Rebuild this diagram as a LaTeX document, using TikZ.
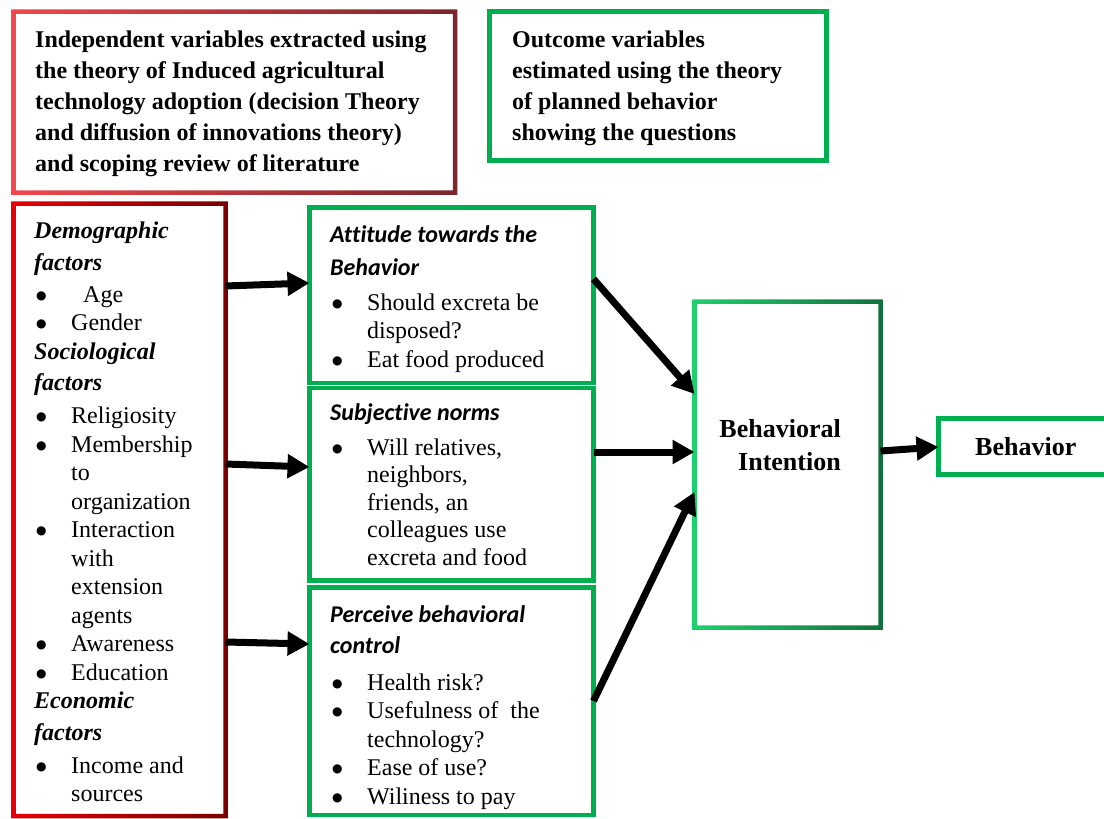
\documentclass[tikz,border=0pt]{standalone}
\usepackage{fontspec}
\setmainfont{Liberation Serif}
\newfontfamily\calfont[Ligatures=NoCommon]{Carlito}
\newfontfamily\dejavu{DejaVu Sans}
\usetikzlibrary{arrows.meta}
\definecolor{tgreen}{RGB}{0,176,80}
\definecolor{hdrL}{RGB}{240,72,76}
\definecolor{hdrR}{RGB}{122,38,44}
\definecolor{lftL}{RGB}{230,0,8}
\definecolor{lftR}{RGB}{122,0,0}
\definecolor{biL}{RGB}{30,208,110}
\definecolor{biR}{RGB}{18,112,60}
\newcommand{\bdot}{\raisebox{3pt}{\dejavu\fontsize{12}{12}\selectfont ●}}
\newcommand{\bl}[1]{\makebox[37pt][l]{\hspace*{2pt}\bdot}#1}
\newcommand{\cl}[1]{\hspace*{37pt}#1}
\newcommand{\hd}[1]{\textbf{\textit{#1}}}
\newcommand{\shd}[1]{{\calfont\bfseries\itshape #1}}
\newcommand{\gframe}[3]{\shade[left color=#2,right color=#3,even odd rule]
  ([shift={(-2.25pt,2.25pt)}]#1.north west) rectangle ([shift={(2.25pt,-2.25pt)}]#1.south east)
  ([shift={(2.25pt,-2.25pt)}]#1.north west) rectangle ([shift={(-2.25pt,2.25pt)}]#1.south east);}
\begin{document}
\begin{tikzpicture}[x=1pt,y=-1pt,
  box/.style={inner sep=0pt, outer sep=0pt, anchor=north west},
  gbox/.style={box, draw=tgreen, line width=4.5pt},
  txt/.style={inner sep=0pt, anchor=north west, align=left, font=\fontsize{24}{28.5}\selectfont},
  arr/.style={line width=7pt, -{Triangle[length=22pt,width=23pt]}}]
\useasboundingbox (0,0) rectangle (1104,819);
% boxes
\node[box, minimum width=441.5pt, minimum height=181pt] (hdrA) at (13.5,11.5) {};
\node[gbox, minimum width=337pt, minimum height=149pt] (hdrB) at (489.5,11.5) {};
\node[box, minimum width=212pt, minimum height=612.5pt] (left) at (13.5,203.5) {};
\node[gbox, minimum width=284pt, minimum height=175.5pt] (att) at (309.5,207.5) {};
\node[gbox, minimum width=284pt, minimum height=192.5pt] (subj) at (309.5,388) {};
\node[gbox, minimum width=284pt, minimum height=227.5pt] (pbc) at (309.5,587.5) {};
\node[box, minimum width=186pt, minimum height=326pt] (bi) at (694.5,301.5) {};
\node[gbox, minimum width=169.5pt, minimum height=56pt] (beh) at (938.5,418.5) {};
\gframe{hdrA}{hdrL}{hdrR}
\gframe{left}{lftL}{lftR}
\gframe{bi}{biL}{biR}
% texts
\node[txt, font=\bfseries\fontsize{24}{31}\selectfont] (hdrAt) at (35,29) {\rule{0pt}{18pt}Independent variables extracted using\\the theory of Induced agricultural\\technology adoption (decision Theory\\and diffusion of innovations theory)\\and scoping review of literature};
\node[txt, font=\bfseries\fontsize{24}{31}\selectfont] (hdrBt) at (512,29) {\rule{0pt}{18pt}Outcome variables\\estimated using the theory\\of planned behavior\\showing the questions};
\node[txt] (leftt) at (34,220) {\rule{0pt}{18pt}\hd{Demographic}\\[3.5pt]
\hd{factors}\\[3.5pt]
\bl{\hspace*{12pt}Age}\\
\bl{Gender}\\
\hd{Sociological}\\[3pt]
\hd{factors}\\[4.5pt]
\bl{Religiosity}\\
\bl{Membership}\\
\cl{to}\\
\cl{organization}\\
\bl{Interaction}\\
\cl{with}\\
\cl{extension}\\
\cl{agents}\\
\bl{Awareness}\\
\bl{Education}\\
\hd{Economic}\\[3.5pt]
\hd{factors}\\[4pt]
\bl{Income and}\\
\cl{sources}};
\node[txt] (attt) at (330,224) {\rule{0pt}{18pt}\shd{Attitude towards the}\\[4.5pt]
\shd{Behavior}\\[6.5pt]
\bl{Should excreta be}\\
\cl{disposed?}\\
\bl{Eat food produced}};
\node[txt, font=\fontsize{24}{27.5}\selectfont] (subjt) at (330,402) {\rule{0pt}{18pt}\shd{Subjective norms}\\[7.5pt]
\bl{Will relatives,}\\
\cl{neighbors,}\\
\cl{friends, an}\\
\cl{colleagues use}\\
\cl{excreta and food}};
\node[txt] (pbct) at (330,604) {\rule{0pt}{18pt}\shd{Perceive behavioral}\\[2.5pt]
\shd{control}\\[8.5pt]
\bl{Health risk?}\\
\bl{Usefulness of\ \ the}\\
\cl{technology?}\\
\bl{Ease of use?}\\
\bl{Wiliness to pay}};
\node[inner sep=0pt, anchor=north east, align=right, font=\bfseries\fontsize{26}{33}\selectfont] (bit) at (841,418) {\rule{0pt}{19pt}Behavioral\\Intention};
\node[inner sep=0pt, anchor=base west, font=\bfseries\fontsize{26}{33}\selectfont] (beht) at (975,455) {Behavior};
% arrows
\draw[arr] (left.east |- 0,286) -- (att.west |- 0,283);
\draw[arr] (left.east |- 0,464) -- (subj.west |- 0,467);
\draw[arr] (left.east |- 0,642) -- (pbc.west |- 0,644);
\draw[arr] (att.east |- 0,279) -- (bi.west |- 0,394);
\draw[arr] (subj.east |- 0,452) -- (bi.west |- 0,452);
\draw[arr] (pbc.east |- 0,701) -- (bi.west |- 0,492);
\draw[arr] (bi.east |- 0,451) -- (beh.west |- 0,447);
\end{tikzpicture}
\end{document}
